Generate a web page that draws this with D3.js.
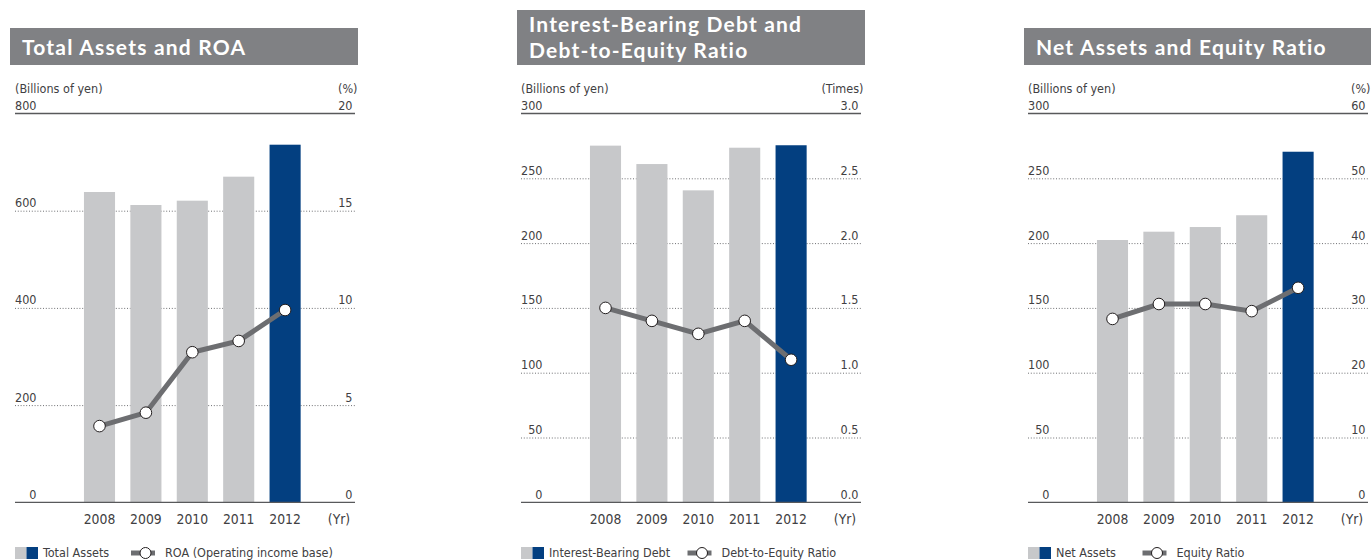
<!DOCTYPE html>
<html>
<head>
<meta charset="utf-8">
<script src="https://cdn.jsdelivr.net/npm/d3@7"></script>
<style>
  html, body { margin: 0; padding: 0; background: #fff; }
  svg { display: block; }
  text { font-family: "DejaVu Sans Condensed", "DejaVu Sans", sans-serif; fill: #414042; }
  .title { font-family: Lato, "Open Sans", sans-serif; font-weight: 700; fill: #fff; }
</style>
</head>
<body>
<svg id="chart" width="1371" height="560"></svg>
<script>
const years = ["2008", "2009", "2010", "2011", "2012"];

const totalAssets = [638.5, 611.7, 620.6, 670.0, 735.8];
const roa = [3.92, 4.61, 7.72, 8.30, 9.89];
const assetsLeftTicks = [0, 200, 400, 600, 800];
const assetsRightTicks = [0, 5, 10, 15, 20];

const interestDebt = [275.2, 261.0, 240.7, 273.6, 275.5];
const deRatio = [1.50, 1.40, 1.30, 1.40, 1.10];
const debtLeftTicks = [0, 50, 100, 150, 200, 250, 300];
const debtRightTicks = [0, 0.5, 1.0, 1.5, 2.0, 2.5, 3.0];

const netAssets = [202.4, 208.8, 212.4, 221.5, 270.5];
const equityRatio = [28.3, 30.6, 30.6, 29.5, 33.1];
const netLeftTicks = [0, 50, 100, 150, 200, 250, 300];
const netRightTicks = [0, 10, 20, 30, 40, 50, 60];

const charts = [
  { title: ["Total Assets and ROA"], left: 15, boxX: 10, boxY: 28,
    bars: totalAssets, line: roa, lt: assetsLeftTicks, rt: assetsRightTicks,
    rFmt: d3.format("d"), leftUnit: "(Billions of yen)", rightUnit: "(%)",
    barLegend: "Total Assets", lineLegend: "ROA (Operating income base)", lineLegendX: 116 },
  { title: ["Interest-Bearing Debt and", "Debt-to-Equity Ratio"], left: 521, boxX: 517, boxY: 10,
    bars: interestDebt, line: deRatio, lt: debtLeftTicks, rt: debtRightTicks,
    rFmt: d3.format(".1f"), leftUnit: "(Billions of yen)", rightUnit: "(Times)",
    barLegend: "Interest-Bearing Debt", lineLegend: "Debt-to-Equity Ratio", lineLegendX: 166.5 },
  { title: ["Net Assets and Equity Ratio"], left: 1028, boxX: 1024, boxY: 28,
    bars: netAssets, line: equityRatio, lt: netLeftTicks, rt: netRightTicks,
    rFmt: d3.format("d"), leftUnit: "(Billions of yen)", rightUnit: "(%)",
    barLegend: "Net Assets", lineLegend: "Equity Ratio", lineLegendX: 114.5 }
];

const svg = d3.select("#chart");
const W = 340, yBottom = 502.3, yTop = 113.5;
const grey = "#c7c8ca", blue = "#033f80", lineCol = "#6d6e71", axisCol = "#58595b";

charts.forEach(c => {
  const g = svg.append("g");
  const x0 = c.left, x1 = c.left + W;

  // Title box
  const boxW = Math.min(348, 1371 - c.boxX);
  g.append("rect").attr("x", c.boxX).attr("y", c.boxY)
    .attr("width", boxW).attr("height", 65 - c.boxY).attr("fill", "#808184");
  c.title.forEach((t, i) => {
    const base = c.title.length === 1 ? 55 : 32 + i * 25.6;
    g.append("text").attr("class", "title").attr("x", c.boxX + 12).attr("y", base)
      .attr("font-size", 21).attr("letter-spacing", 1.2).text(t);
  });

  const yL = d3.scaleLinear().domain([0, d3.max(c.lt)]).range([yBottom, yTop]);
  const yR = d3.scaleLinear().domain([0, d3.max(c.rt)]).range([yBottom, yTop]);
  const x = d3.scaleBand().domain(years).range([x0 + 61.3, x0 + 61.3 + 232])
    .paddingInner(0.33).paddingOuter(0.165);

  // unit labels
  g.append("text").attr("x", x0).attr("y", 92.5).attr("font-size", 12.5).text(c.leftUnit);
  g.append("text").attr("x", x1 + 2.5).attr("y", 92.5).attr("font-size", 12.5)
    .attr("text-anchor", "end").text(c.rightUnit);

  // gridlines (dotted) for intermediate ticks
  const mids = c.lt.slice(1, -1);
  g.selectAll(".grid").data(mids).enter().append("line")
    .attr("x1", x0).attr("x2", x1)
    .attr("y1", d => yL(d) + 0.5).attr("y2", d => yL(d) + 0.5)
    .attr("stroke", "#6f7073").attr("stroke-width", 1).attr("stroke-dasharray", "1,1.8");

  // top solid line
  g.append("line").attr("x1", x0).attr("x2", x1).attr("y1", yL(d3.max(c.lt))).attr("y2", yL(d3.max(c.lt)))
    .attr("stroke", axisCol).attr("stroke-width", 1.3);

  // left tick labels
  g.selectAll(".lt").data(c.lt).enter().append("text")
    .attr("x", x0 + 21.5).attr("y", d => yL(d) - 3.5)
    .attr("font-size", 12.5).attr("text-anchor", "end").text(d => d);
  // right tick labels
  g.selectAll(".rt").data(c.rt).enter().append("text")
    .attr("x", x1 - 2.5).attr("y", d => yR(d) - 3.5)
    .attr("font-size", 12.5).attr("text-anchor", "end").text(d => c.rFmt(d));

  // bars
  g.selectAll(".bar").data(c.bars).enter().append("rect")
    .attr("x", (d, i) => x(years[i])).attr("width", x.bandwidth())
    .attr("y", d => yL(d)).attr("height", d => yBottom - yL(d))
    .attr("fill", (d, i) => i === years.length - 1 ? blue : grey);

  // baseline
  g.append("line").attr("x1", x0).attr("x2", x1).attr("y1", yBottom).attr("y2", yBottom)
    .attr("stroke", axisCol).attr("stroke-width", 1.3);

  // line series
  const cx = i => x(years[i]) + x.bandwidth() / 2;
  const lineGen = d3.line().x((d, i) => cx(i)).y(d => yR(d));
  g.append("path").datum(c.line).attr("d", lineGen)
    .attr("fill", "none").attr("stroke", lineCol).attr("stroke-width", 5);
  g.selectAll(".pt").data(c.line).enter().append("circle")
    .attr("cx", (d, i) => cx(i)).attr("cy", d => yR(d)).attr("r", 5.8)
    .attr("fill", "#fff").attr("stroke", "#231f20").attr("stroke-width", 1);

  // year labels
  g.selectAll(".yr").data(years).enter().append("text")
    .attr("x", d => x(d) + x.bandwidth() / 2).attr("y", 524)
    .attr("font-size", 13.8).attr("text-anchor", "middle").text(d => d);
  g.append("text").attr("x", x1 - 16).attr("y", 524).attr("font-size", 13.8)
    .attr("text-anchor", "middle").text("(Yr)");

  // legend
  g.append("rect").attr("x", x0).attr("y", 547).attr("width", 11.5).attr("height", 12).attr("fill", grey);
  g.append("rect").attr("x", x0 + 11.5).attr("y", 547).attr("width", 11.5).attr("height", 12).attr("fill", blue);
  g.append("text").attr("x", x0 + 28).attr("y", 557).attr("font-size", 12.5).text(c.barLegend);
  const lx = x0 + c.lineLegendX;
  g.append("line").attr("x1", lx).attr("x2", lx + 24).attr("y1", 553).attr("y2", 553)
    .attr("stroke", lineCol).attr("stroke-width", 5);
  g.append("circle").attr("cx", lx + 14.5).attr("cy", 553).attr("r", 5.5)
    .attr("fill", "#fff").attr("stroke", "#231f20").attr("stroke-width", 1);
  g.append("text").attr("x", lx + 34).attr("y", 557).attr("font-size", 12.5).text(c.lineLegend);
});
</script>
</body>
</html>
